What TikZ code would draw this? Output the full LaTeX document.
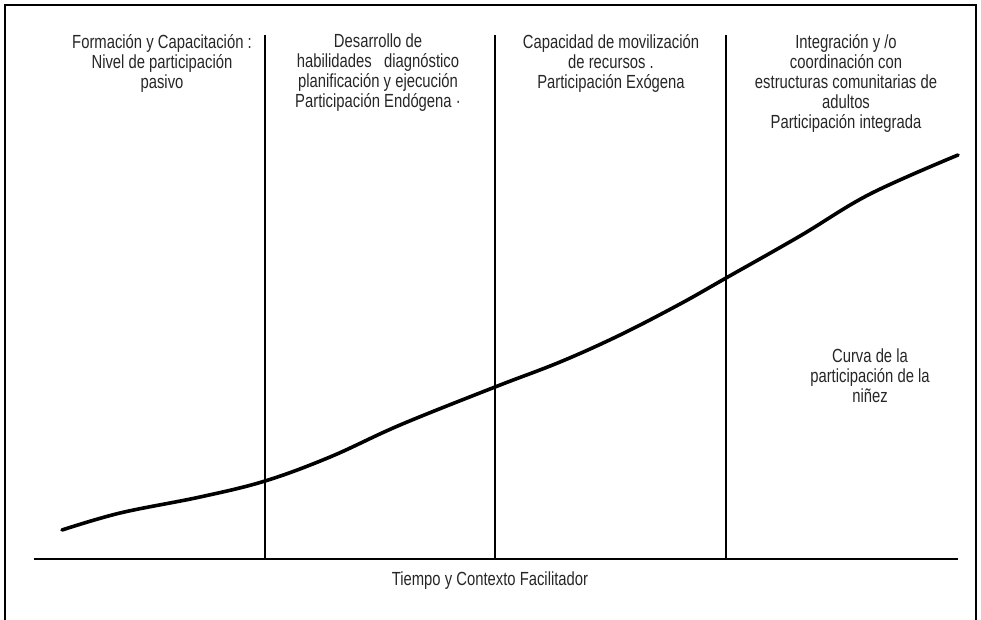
\documentclass[tikz,border=0pt]{standalone}
\usepackage{fontspec}
\setmainfont[FakeStretch=0.78]{Liberation Sans}
\tikzset{lbl/.style={align=center, font=\fontsize{19}{20}\selectfont, inner sep=0pt, text=black!85},
  sep/.style={line width=1.1pt}}

\begin{document}
\begin{tikzpicture}[x=1pt,y=-1pt]
\useasboundingbox (0,0) rectangle (981,619);
% frame, its bottom edge lies below the page
\draw[line width=2.8pt] (5,640) -- (5,5) -- (976,5) -- (976,640);

\coordinate (o) at (34,559);
\coordinate (e) at (958,559);
\draw[line width=1.4pt] (o) to (e);

\foreach \i/\x in {a/265,b/495,c/726}
{
  \coordinate (\i top) at (\x,35);
  \coordinate (\i bot) at (\x,559);
  \draw[sep] (\i top) to (\i bot);
}

\node[lbl] (fase1) at (162,63) {Formación y Capacitación :\\Nivel de participación\\pasivo};
\node[lbl] (fase2) at (378,73) {Desarrollo de\\habilidades \ \ diagnóstico\\planificación y ejecución\\Participación Endógena ·};
\node[lbl] (fase3) at (611,63) {Capacidad de movilización\\de recursos .\\Participación Exógena};
\node[lbl] (fase4) at (846,83) {Integración y /o\\coordinación con\\estructuras comunitarias de\\adultos\\Participación integrada};
\node[lbl] (curva) at (870,376) {Curva de la\\participación de la\\niñez};
\node[lbl] (eje) at (490,581) {Tiempo y Contexto Facilitador};

\draw[line width=3.6pt, line cap=round] plot[smooth, tension=0.6] coordinates
  {(62,530) (120,513) (200,497) (265,481) (330,457) (400,425) (495,387)
   (560,362) (620,335) (680,304) (726,278) (800,236) (870,194) (958,155)};
\end{tikzpicture}
\end{document}
